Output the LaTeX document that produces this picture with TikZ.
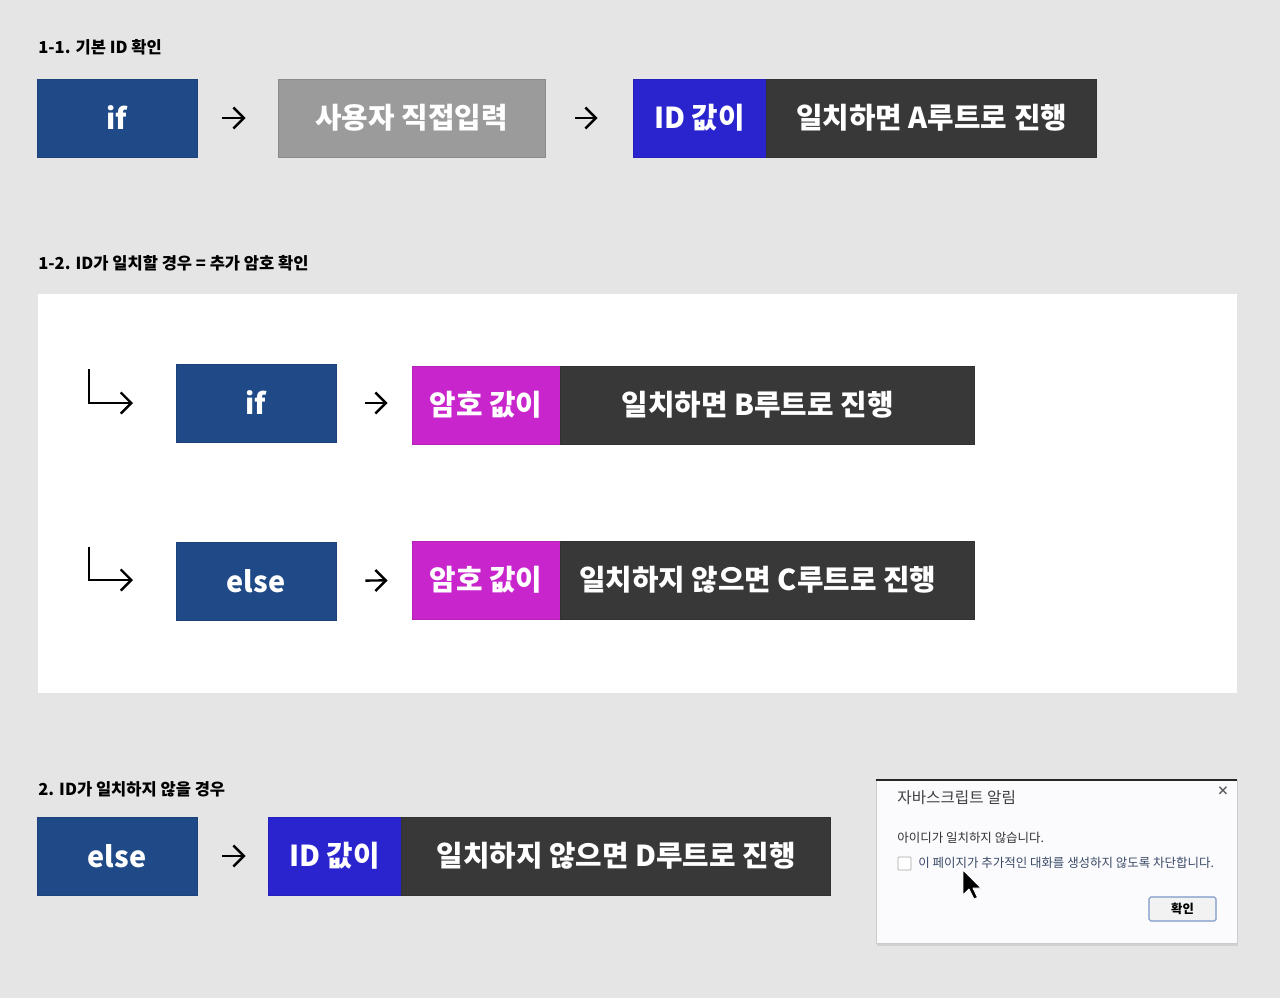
\documentclass[tikz,border=0pt]{standalone}
\usepackage{fontspec}
\newfontfamily\krfont{Noto Sans CJK KR}
\usetikzlibrary{arrows.meta, positioning}

\definecolor{bgGray}{HTML}{E5E5E5}
\definecolor{ifBlue}{HTML}{1F4A87}
\definecolor{inputGray}{HTML}{9B9B9B}
\definecolor{idBlue}{HTML}{2A24CF}
\definecolor{pwMagenta}{HTML}{C826CC}
\definecolor{resultDark}{HTML}{383838}
\definecolor{dlgFill}{HTML}{FBFBFE}
\definecolor{dlgText}{HTML}{3A4A66}
\definecolor{btnBlue}{HTML}{7C98C8}

\tikzset{
    sectitle/.style={anchor=west, inner sep=0pt, font=\krfont\bfseries\fontsize{9.4}{11}\selectfont},
    box/.style={rectangle, fill=#1, draw=#1!90!black, line width=0.4pt, minimum height=1.56cm,
                inner sep=0pt, text=white, font=\krfont\bfseries\fontsize{16.4}{19}\selectfont},
    flow/.style={-{Straight Barb[length=6pt,width=12pt]}, line width=1.4pt},
    dlgtext/.style={anchor=west, inner sep=0pt, font=\krfont\fontsize{7.1}{9}\selectfont}
}

\begin{document}
\begin{tikzpicture}[x=0.02cm, y=-0.02cm]
    % Background
    \fill[bgGray] (0,0) rectangle (1280,998);
    % 1-1. basic ID check
    \node[sectitle] (t11) at (38,47) {1-1. 기본 ID 확인};
    \node[box=ifBlue, minimum width=3.2cm]     (if1)   at (117,118)   {if};
    \node[box=inputGray, minimum width=5.34cm] (input) at (411.5,118) {사용자 직접입력};
    \node[box=idBlue, minimum width=2.66cm]    (id1)   at (699.5,118) {ID 값이};
    \node[box=resultDark, minimum width=6.6cm, right=0pt of id1] (resA) {일치하면 A루트로 진행};
    \draw[flow, shorten <=0.5cm, shorten >=0.64cm] (if1)   -- (input);
    \draw[flow, shorten <=0.6cm, shorten >=0.7cm]  (input) -- (id1);
    % 1-2. ID matches = password check
    \node[sectitle] (t12) at (38,263) {1-2. ID가 일치할 경우 = 추가 암호 확인};
    \fill[white] (38,294) rectangle (1237,693);
    % if branch
    \coordinate (c1top) at (89,369);
    \coordinate (c1end) at (133,403);
    \draw[flow] (c1top) |- (c1end);
    \node[box=ifBlue, minimum width=3.2cm]     (if2)  at (256,403) {if};
    \node[box=pwMagenta, minimum width=2.96cm] (pw1)  at (486,405) {암호 값이};
    \node[box=resultDark, minimum width=8.28cm, right=0pt of pw1] (resB) {\hspace*{-0.4cm}일치하면 B루트로 진행};
    \draw[flow, shorten <=0.58cm, shorten >=0.48cm] (if2) -- (if2 -| pw1.west);
    % else branch
    \coordinate (c2top) at (89,547);
    \coordinate (c2end) at (133,580);
    \draw[flow] (c2top) |- (c2end);
    \node[box=ifBlue, minimum width=3.2cm]     (else1) at (256,581) {else};
    \node[box=pwMagenta, minimum width=2.96cm] (pw2)   at (486,580) {암호 값이};
    \node[box=resultDark, minimum width=8.28cm, right=0pt of pw2] (resC) {\hspace*{-0.4cm}일치하지 않으면 C루트로 진행};
    \draw[flow, shorten <=0.58cm, shorten >=0.48cm] (else1) -- (pw2);
    % 2. ID does not match
    \node[sectitle] (t2) at (38,789) {2. ID가 일치하지 않을 경우};
    \node[box=ifBlue, minimum width=3.2cm]  (else2) at (117,856)   {else};
    \node[box=idBlue, minimum width=2.66cm] (id2)   at (334.5,856) {ID 값이};
    \node[box=resultDark, minimum width=8.58cm, right=0pt of id2] (resD) {일치하지 않으면 D루트로 진행};
    \draw[flow, shorten <=0.5cm, shorten >=0.44cm] (else2) -- (id2);
    % Alert dialog
    \fill[black!18] (877,784) rectangle (1238,946);
    \filldraw[fill=dlgFill, draw=black!20, line width=0.3pt] (876,780) rectangle (1237,943);
    \draw[black!85, line width=1.1pt] (876,780) -- (1237,780);
    \node[dlgtext, font=\krfont\fontsize{8.9}{11}\selectfont, text=black!75] (dlgtitle) at (897,798) {자바스크립트 알림};
    \node[inner sep=0pt, font=\krfont\bfseries\fontsize{7}{8}\selectfont, text=black!65] (dlgclose) at (1223,791) {×};
    \node[dlgtext, text=black!80] (dlgmsg) at (897,838) {아이디가 일치하지 않습니다.};
    \filldraw[fill=white, draw=black!35, line width=0.4pt, rounded corners=0.5pt] (898,857) rectangle (911,870);
    \node[dlgtext, text=dlgText] (dlgcheck) at (918,863) {이 페이지가 추가적인 대화를 생성하지 않도록 차단합니다.};
    \filldraw[fill=white!95!black, draw=btnBlue, line width=0.6pt, rounded corners=1pt] (1149,897) rectangle (1216,921);
    \node[inner sep=0pt, font=\krfont\bfseries\fontsize{7}{8}\selectfont] (dlgbtn) at (1182.5,909) {확인};
    % Mouse pointer
    \filldraw[fill=black, draw=white, line width=0.5pt, line join=round]
        (963,870) -- ++(0,25) -- ++(6,-6) -- ++(5,10) -- ++(3.5,-1.5) -- ++(-4.5,-9.5) -- ++(8,0) -- cycle;
\end{tikzpicture}
\end{document}
